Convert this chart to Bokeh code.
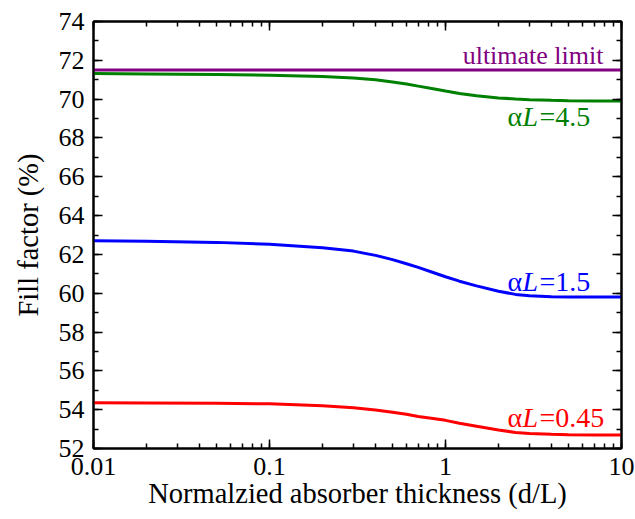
from bokeh.plotting import figure
from bokeh.models import (Range1d, LogAxis, LinearAxis, Label, SingleIntervalTicker,
                          LogTicker, CustomJSTickFormatter)
from bokeh.embed import file_html
from bokeh.resources import INLINE

# ---------------- data ----------------
thickness = [0.01, 0.02, 0.05, 0.1, 0.2, 0.3, 0.4, 0.5, 0.6, 0.7, 0.85, 1.0, 1.2, 1.5, 2.0, 2.5, 3.0, 4.0, 5.0, 7.0, 10.0]
ff_aL_4_5 = [71.32, 71.30, 71.27, 71.23, 71.17, 71.09, 71.00, 70.88, 70.78, 70.67, 70.54, 70.42, 70.29, 70.17, 70.06, 70.01, 69.97, 69.94, 69.92, 69.90, 69.90]
ff_aL_1_5 = [62.70, 62.68, 62.62, 62.52, 62.34, 62.17, 61.95, 61.73, 61.52, 61.33, 61.07, 60.85, 60.62, 60.38, 60.10, 59.94, 59.87, 59.82, 59.80, 59.80, 59.80]
ff_aL_0_45 = [54.36, 54.35, 54.33, 54.30, 54.20, 54.10, 53.98, 53.87, 53.76, 53.65, 53.55, 53.45, 53.30, 53.15, 52.95, 52.83, 52.77, 52.73, 52.71, 52.70, 52.70]
limit_x = [0.01, 10.0]
limit_y = [71.5, 71.5]

series_labels = ["=4.5", "=1.5", "=0.45"]
series_colors = ["#008000", "#0000ff", "#ff0000"]
label_x = 2.25
label_y = [69.11, 60.61, 53.61]          # vertical centre of the curve labels
limit_label_pos = (7.9, 72.27)

y_range = (52, 74)
x_range = (0.01, 10)
x_title = "Normalzied absorber thickness (d/L)"
y_title = "Fill factor (%)"

FONT = "Liberation Serif"

p = figure(width=635, height=519, x_axis_type="log",
           x_range=Range1d(*x_range), y_range=Range1d(*y_range),
           output_backend="svg", toolbar_location=None,
           min_border_left=93, min_border_right=14, min_border_top=21, min_border_bottom=71)
p.background_fill_color = "white"
p.border_fill_color = "white"
p.outline_line_color = "black"
p.outline_line_width = 2
p.xgrid.visible = False
p.ygrid.visible = False

blank = CustomJSTickFormatter(code="return ''")
xfmt = CustomJSTickFormatter(code="return tick >= 1 ? tick.toFixed(0) : tick.toPrecision(1)")

def style_axis(ax):
    ax.axis_line_width = 2
    ax.axis_line_color = "black"
    ax.major_tick_in = 9
    ax.major_tick_out = 0
    ax.minor_tick_in = 5
    ax.minor_tick_out = 0
    ax.major_tick_line_width = 1.5
    ax.minor_tick_line_width = 1.5
    ax.major_tick_line_color = "black"
    ax.minor_tick_line_color = "black"
    ax.major_label_text_font = FONT
    ax.major_label_text_font_size = "26px"
    ax.major_label_text_color = "black"
    ax.axis_label_text_font = FONT
    ax.axis_label_text_font_size = "28.5px"
    ax.axis_label_text_font_style = "normal"
    ax.axis_label_text_color = "black"

p.xaxis.ticker = LogTicker(desired_num_ticks=4, num_minor_ticks=10)
p.xaxis.formatter = xfmt
p.yaxis.ticker = SingleIntervalTicker(interval=2, num_minor_ticks=2)
style_axis(p.xaxis[0])
style_axis(p.yaxis[0])
p.xaxis.major_label_standoff = 9
p.yaxis.major_label_standoff = 9

p.xaxis.axis_label = x_title
p.xaxis.axis_label_standoff = 0
p.yaxis.axis_label = y_title
p.yaxis.axis_label_standoff = 12

top = LogAxis(ticker=LogTicker(desired_num_ticks=4, num_minor_ticks=10), formatter=blank)
style_axis(top)
top.major_label_standoff = 0
p.add_layout(top, "above")
right = LinearAxis(ticker=SingleIntervalTicker(interval=2, num_minor_ticks=2), formatter=blank)
style_axis(right)
right.major_label_standoff = 0
p.add_layout(right, "right")

# ---------------- lines ----------------
p.line(limit_x, limit_y, line_color="#800080", line_width=3)
for ys, c in zip([ff_aL_4_5, ff_aL_1_5, ff_aL_0_45], series_colors):
    p.line(thickness, ys, line_color=c, line_width=3)

# ---------------- labels ----------------
p.add_layout(Label(x=limit_label_pos[0], y=limit_label_pos[1], text="ultimate limit",
                   text_align="right", text_baseline="middle",
                   text_font=FONT, text_font_size="26px", text_color="#800080"))
for txt, c, ly in zip(series_labels, series_colors, label_y):
    p.add_layout(Label(x=label_x, y=ly, text="\u03b1", text_align="left", text_baseline="middle",
                       text_font=FONT, text_font_size="28px", text_color=c))
    p.add_layout(Label(x=label_x, y=ly, x_offset=15, text="L", text_align="left", text_baseline="middle",
                       text_font=FONT, text_font_size="28px", text_font_style="italic", text_color=c))
    p.add_layout(Label(x=label_x, y=ly, x_offset=32, text=txt, text_align="left", text_baseline="middle",
                       text_font=FONT, text_font_size="28px", text_color=c))

open("out.html", "w").write(file_html(p, INLINE))
